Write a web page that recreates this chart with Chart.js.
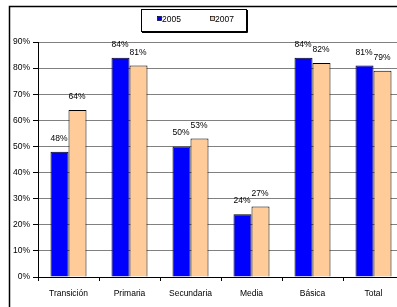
<!DOCTYPE html>
<html>
<head>
<meta charset="utf-8">
<script src="https://cdn.jsdelivr.net/npm/chart.js@4/dist/chart.umd.min.js"></script>
<style>
  html, body { margin: 0; padding: 0; background: #fff; overflow: hidden; }
  #wrap { width: 397px; height: 307px; overflow: hidden; position: relative; }
  canvas { display: block; }
</style>
</head>
<body>
<div id="wrap"><canvas id="chartNivel" width="404" height="307"></canvas></div>
<script>
// datos
const categories = ['Transición', 'Primaria', 'Secundaria', 'Media', 'Básica', 'Total'];
const seriesNames = ['2005', '2007'];
const values2005 = [48, 84, 50, 24, 84, 81];
const values2007 = [64, 81, 53, 27, 82, 79];
const yTicks = [0, 10, 20, 30, 40, 50, 60, 70, 80, 90];

const FONT = "'Liberation Sans', Arial, sans-serif";
const FS = 8.5;

// marco exterior + leyenda con recuadro
const framePlugin = {
    id: 'frame',
    beforeDraw(chart) {
        const c = chart.ctx;
        c.save();
        c.fillStyle = '#fff';
        c.fillRect(0, 0, chart.width, chart.height);
        c.strokeStyle = '#000';
        c.lineWidth = 1.5;
        c.strokeRect(9.5, 6.5, chart.width + 20, chart.height + 20);
        c.restore();
    },
    afterDraw(chart) {
        const c = chart.ctx;
        c.save();
        // caja de leyenda
        c.fillStyle = '#fff';
        c.fillRect(141, 9, 106, 23);
        c.strokeStyle = '#000';
        c.lineWidth = 1;
        c.strokeRect(141.5, 9.5, 105, 22);
        c.beginPath();
        c.moveTo(142, 32.5); c.lineTo(247.5, 32.5); c.lineTo(247.5, 10);
        c.stroke();
        const xs = [157, 210];
        c.font = FS + 'px ' + FONT;
        c.textBaseline = 'alphabetic';
        c.textAlign = 'left';
        chart.data.datasets.forEach((ds, i) => {
            c.fillStyle = ds.backgroundColor;
            c.fillRect(xs[i] + 0.5, 16.5, 4, 4);
            c.strokeStyle = '#000';
            c.lineWidth = 0.7;
            c.strokeRect(xs[i] + 0.5, 16.5, 4, 4);
            c.fillStyle = '#000';
            c.fillText(ds.label, xs[i] + 5, 21.5);
        });
        c.restore();
    }
};

// etiquetas de valor sobre las barras
const valueLabels = {
    id: 'valueLabels',
    afterDatasetsDraw(chart) {
        const c = chart.ctx;
        c.save();
        c.font = FS + 'px ' + FONT;
        c.fillStyle = '#000';
        c.textAlign = 'center';
        c.textBaseline = 'alphabetic';
        chart.data.datasets.forEach((ds, i) => {
            chart.getDatasetMeta(i).data.forEach((bar, j) => {
                c.fillText(ds.data[j] + '%', bar.x - 0.5, bar.y - 11);
            });
        });
        c.restore();
    }
};

new Chart(document.getElementById('chartNivel'), {
    type: 'bar',
    data: {
        labels: categories,
        datasets: [
            {
                label: seriesNames[0],
                data: values2005,
                backgroundColor: '#0000ff',
                borderColor: '#000',
                borderWidth: 1,
                categoryPercentage: 0.59,
                barPercentage: 1,
            },
            {
                label: seriesNames[1],
                data: values2007,
                backgroundColor: '#ffcc99',
                borderColor: '#000',
                borderWidth: 1,
                categoryPercentage: 0.59,
                barPercentage: 1,
            },
        ],
    },
    options: {
        responsive: false,
        animation: false,
        layout: { padding: { top: 42, left: 0, right: 0, bottom: 0 } },
        plugins: {
            legend: { display: false },
            tooltip: { enabled: false },
        },
        scales: {
            y: {
                min: 0,
                max: 90,
                afterFit: s => { s.width = 38; },
                afterBuildTicks: s => { s.ticks = yTicks.map(v => ({ value: v })); },
                grid: { color: '#808080', lineWidth: 1, tickColor: '#000', tickLength: 5 },
                border: { color: '#000', width: 1 },
                ticks: {
                    font: { family: FONT, size: FS },
                    color: '#000',
                    padding: 3,
                    callback: v => v + '%',
                },
            },
            x: {
                afterFit: s => { s.height = 30; },
                grid: { drawOnChartArea: false, tickColor: '#000', tickLength: 4 },
                border: { color: '#000', width: 1 },
                ticks: {
                    font: { family: FONT, size: FS },
                    color: '#000',
                    padding: 8,
                    maxRotation: 0,
                },
            },
        },
    },
    plugins: [framePlugin, valueLabels],
});
</script>
</body>
</html>
